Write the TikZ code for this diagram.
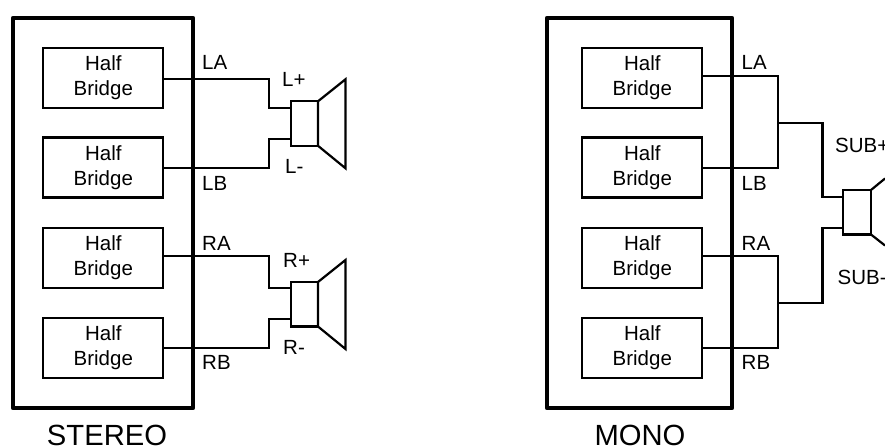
\documentclass[tikz,border=0pt]{standalone}
\usepackage{fontspec}
\setmainfont{Liberation Sans}
\usetikzlibrary{calc}
\tikzset{
  wire/.style={line width=2.2pt,line join=miter},
  chassis/.style={draw,line width=4.4pt,line join=round,anchor=north west,inner sep=0pt,outer sep=0pt,
    minimum width=#1,minimum height=390pt},
  halfbridge/.style={draw,line width=2.2pt,anchor=north west,inner sep=0pt,outer sep=0pt,
    minimum width=120pt,minimum height=60pt,align=center,font=\fontsize{20.5}{25}\selectfont},
  spkbox/.style={draw,line width=2.2pt,anchor=north west,inner sep=0pt,outer sep=0pt,
    minimum width=27pt,minimum height=44.5pt},
  pinlabel/.style={anchor=base west,inner sep=0pt,font=\fontsize{20.5}{24}\selectfont},
  caption/.style={anchor=base,inner sep=0pt,font=\fontsize{29.2}{32}\selectfont},
}
\begin{document}
\begin{tikzpicture}[x=1pt,y=-1pt]
  \useasboundingbox (0,0) rectangle (885,446);

  % stereo side
  \node[chassis=180pt] (chassisS) at (13,18) {};
  \foreach \k/\y in {A/48,B/137.5,C/228,D/318}{
    \node[halfbridge] (hbS\k) at (43.3,\y) {Half\\Bridge};
  }
  \node[spkbox] (spkL) at (291,101.3) {};
  \node[spkbox] (spkR) at (291,282) {};
  \foreach \s in {spkL,spkR}{
    \draw[wire] (\s.north east) -- ++(27.5,-22) -- ++(0,89) -- (\s.south east) -- cycle;
  }
  \coordinate (tLA) at (269,79.3);
  \coordinate (tLB) at (269,168);
  \coordinate (tRA) at (269,256);
  \coordinate (tRB) at (269,348);
  \draw[wire] (hbSA.east |- tLA) -- (tLA) -- (tLA |- 0,108) -- (spkL.west |- 0,108);
  \draw[wire] (hbSB.east |- tLB) -- (tLB) -- (tLB |- 0,139) -- (spkL.west |- 0,139);
  \draw[wire] (hbSC.east |- tRA) -- (tRA) -- (tRA |- 0,288) -- (spkR.west |- 0,288);
  \draw[wire] (hbSD.east |- tRB) -- (tRB) -- (tRB |- 0,319) -- (spkR.west |- 0,319);
  \node[pinlabel] (labLA) at (202,70) {LA};
  \node[pinlabel] (labLB) at (202,190.5) {LB};
  \node[pinlabel] (labRA) at (202,250) {RA};
  \node[pinlabel] (labRB) at (202,369) {RB};
  \node[pinlabel] (labLp) at (282,87) {L+};
  \node[pinlabel] (labLm) at (285,174) {L-};
  \node[pinlabel] (labRp) at (283,267) {R+};
  \node[pinlabel] (labRm) at (283,354) {R-};
  \node[caption] (capS) at (107,445) {STEREO};

  % mono side
  \node[chassis=185pt] (chassisM) at (547,18) {};
  \foreach \k/\y in {A/48,B/137.5,C/228,D/318}{
    \node[halfbridge] (hbM\k) at (582.3,\y) {Half\\Bridge};
  }
  \node[spkbox,minimum width=28pt] (spkM) at (843,190) {};
  \coordinate (jTop) at (778,123);
  \coordinate (jBot) at (778,303);
  \coordinate (tSp) at (822.5,197);
  \coordinate (tSm) at (822.5,228);
  \draw[wire] (hbMA.east |- 0,76) -| (jTop) |- (hbMB.east |- 0,168);
  \draw[wire] (hbMC.east |- 0,256) -| (jBot) |- (hbMD.east |- 0,348);
  \draw[wire] (jTop) -| (tSp) -- (spkM.west |- tSp);
  \draw[wire] (jBot) -| (tSm) -- (spkM.west |- tSm);
  \draw[wire,line width=2.8pt] (spkM.north east) -- (spkM.south east);
  \draw[wire] (spkM.north east) -- (885,178.5);
  \draw[wire] (spkM.south east) -- (885,245.5);
  \node[pinlabel] (labLAm) at (741.5,70) {LA};
  \node[pinlabel] (labLBm) at (741.5,190.5) {LB};
  \node[pinlabel] (labRAm) at (741.5,250) {RA};
  \node[pinlabel] (labRBm) at (741.5,369) {RB};
  \node[pinlabel] (labSp) at (835,153) {SUB+};
  \node[pinlabel] (labSm) at (837.5,284) {SUB-};
  \node[caption] (capM) at (640,445) {MONO};
\end{tikzpicture}
\end{document}
